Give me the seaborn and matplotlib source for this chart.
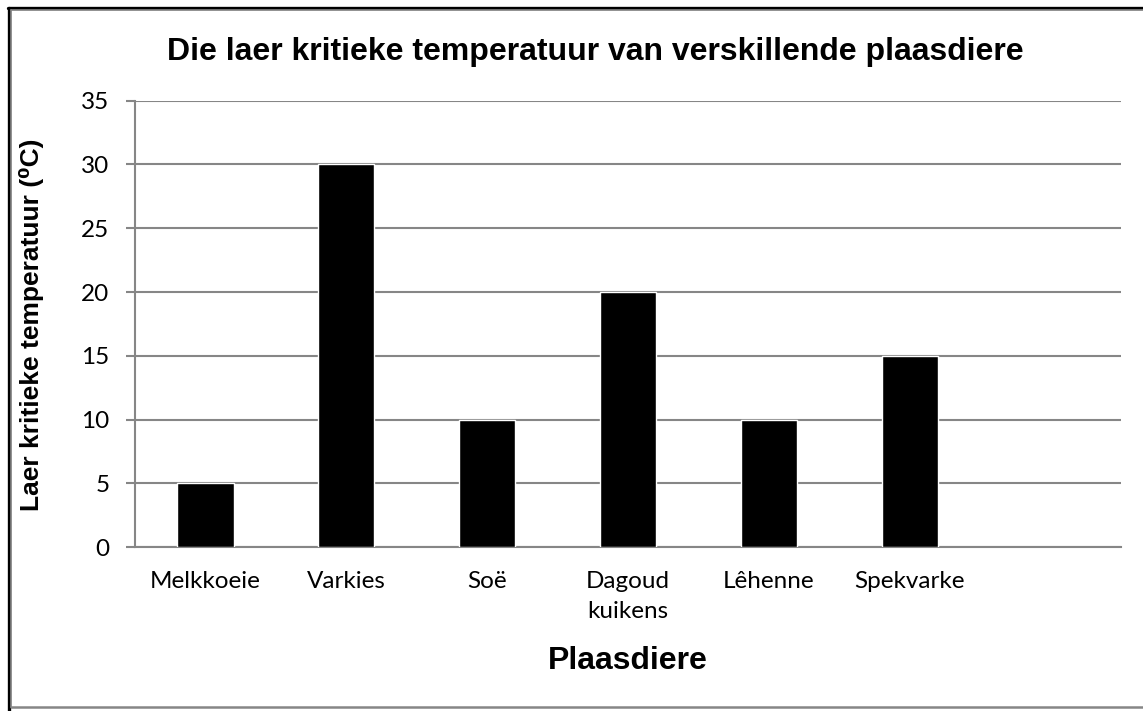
import matplotlib
matplotlib.use("Agg")
import matplotlib.pyplot as plt
import seaborn as sns
import pandas as pd

# data
animals = ["Melkkoeie", "Varkies", "Soë", "Dagoud\nkuikens", "Lêhenne", "Spekvarke"]
temps = [5, 30, 10, 20, 10, 15]
y_ticks = [0, 5, 10, 15, 20, 25, 30, 35]

title = "Die laer kritieke temperatuur van verskillende plaasdiere"
xlabel = "Plaasdiere"
ylabel = "Laer kritieke temperatuur (\u2070C)"

df = pd.DataFrame({"animal": animals, "temp": temps})

sns.set_style("white")
plt.rcParams['font.family'] = ['Lato', 'DejaVu Sans']
plt.rcParams['text.color'] = 'black'
plt.rcParams['xtick.labelcolor'] = 'black'
plt.rcParams['ytick.labelcolor'] = 'black'

grid_col = "#868686"

fig = plt.figure(figsize=(11.43, 7.11), dpi=100)
ax = fig.add_axes([135 / 1143, 1 - 547.3 / 711, 986 / 1143, (547.3 - 100.7) / 711])

sns.barplot(data=df, x="animal", y="temp", color="black", width=0.4,
            saturation=1, ax=ax, zorder=3)

# one empty category slot on the right, like the original
ax.set_xlim(-0.5, 6.5)
ax.set_ylim(0, 35)
ax.set_yticks(y_ticks)
ax.set_xticks(range(len(animals)), animals, linespacing=1.55, va="top")

ax.grid(axis="y", color=grid_col, linewidth=1.5, zorder=0)
ax.set_axisbelow(True)
for s in ["top", "right"]:
    ax.spines[s].set_visible(False)
for s in ["left", "bottom"]:
    ax.spines[s].set_color(grid_col)
    ax.spines[s].set_linewidth(1.5)

ax.tick_params(axis="y", direction="out", length=6.5, width=1.5, color=grid_col,
               pad=12, labelsize=17.5, left=True, labelcolor="black")
ax.tick_params(axis="x", length=0, pad=17, labelsize=17.5, labelcolor="black")

ax.set_xlabel("")
ax.set_ylabel("")

bold = ['Liberation Sans', 'DejaVu Sans']
fig.text(595 / 1143, 1 - 52 / 711, title, ha="center", va="center",
         fontsize=23, fontweight="bold", family=bold, color="black")
fig.text(628 / 1143, 1 - 661 / 711, xlabel, ha="center", va="center",
         fontsize=23, fontweight="bold", family=bold, color="black")
fig.text(32 / 1143, 1 - 325 / 711, ylabel, ha="center", va="center",
         rotation=90, fontsize=19, fontweight="bold", family=bold, color="black")

# frame around the chart (black on left/top, gray inner and bottom)
fig.add_artist(plt.Line2D([8.5 / 1143, 8.5 / 1143], [0, 1 - 7.5 / 711],
                          color="black", linewidth=2.4, transform=fig.transFigure))
fig.add_artist(plt.Line2D([7.5 / 1143, 1], [1 - 7.5 / 711, 1 - 7.5 / 711],
                          color="black", linewidth=2.4, transform=fig.transFigure))
fig.add_artist(plt.Line2D([10.7 / 1143, 10.7 / 1143], [1 - 707 / 711, 1 - 9.7 / 711],
                          color=grid_col, linewidth=1.2, transform=fig.transFigure))
fig.add_artist(plt.Line2D([10.7 / 1143, 1], [1 - 9.7 / 711, 1 - 9.7 / 711],
                          color=grid_col, linewidth=1.2, transform=fig.transFigure))
fig.add_artist(plt.Line2D([10.7 / 1143, 1], [1 - 707 / 711, 1 - 707 / 711],
                          color=grid_col, linewidth=1.8, transform=fig.transFigure))

fig.savefig("out.png", dpi=100)
